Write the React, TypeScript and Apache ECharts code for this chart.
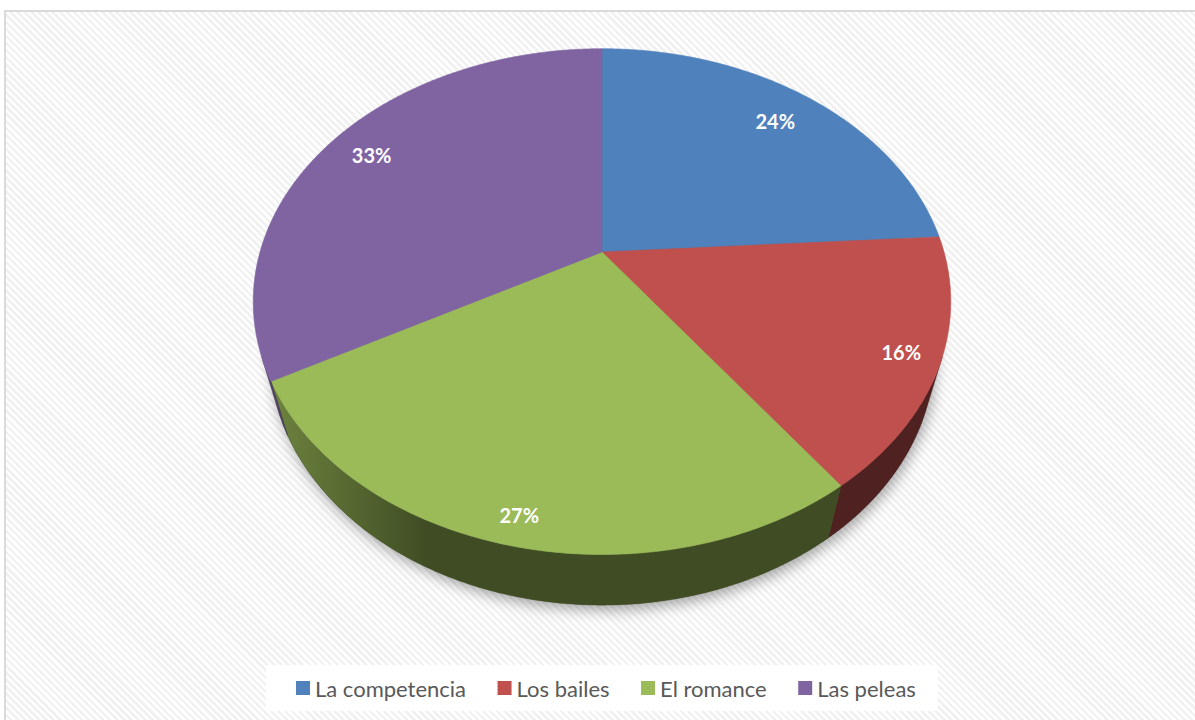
import React, { useEffect, useRef } from "react";
import * as echarts from "echarts";

const categories = ["La competencia", "Los bailes", "El romance", "Las peleas"];
const values = [24, 16, 27, 33];
const colors = ["#4F81BD", "#C0504D", "#9BBB59", "#8064A2"];

// projection parameters (3D tilted pie with perspective)
const CX = 602;
const CY = 252;
const F = 1225.7;
const DIST = 3.584;
const SA = 0.711;
const CA = 0.703;
const THICK = 0.239;
const DEG = Math.PI / 180;

function project(phi: number, h: number, r = 1): [number, number] {
  const X = r * Math.cos(phi);
  const Z = r * Math.sin(phi);
  const yv = Z * SA + h * CA;
  const depth = DIST + Z * CA - h * SA;
  return [CX + (F * X) / depth, CY - (F * yv) / depth];
}

function shade(hex: string, k: number): string {
  const n = parseInt(hex.slice(1), 16);
  const r = Math.round(((n >> 16) & 255) * k);
  const g = Math.round(((n >> 8) & 255) * k);
  const b = Math.round((n & 255) * k);
  return `rgb(${r},${g},${b})`;
}

function arcPoints(a: number, b: number, h: number): [number, number][] {
  const pts: [number, number][] = [];
  const steps = Math.max(2, Math.ceil(Math.abs(b - a) / (0.5 * DEG)));
  for (let i = 0; i <= steps; i++) {
    pts.push(project(a + ((b - a) * i) / steps, h));
  }
  return pts;
}

const total = values.reduce((s, v) => s + v, 0);
const tangent = Math.asin(1 / (DIST * CA));
const visA = -Math.PI + tangent; // left silhouette
const visB = -tangent; // right silhouette

export default function App() {
  const ref = useRef<HTMLDivElement>(null);
  useEffect(() => {
    if (!ref.current) return;
    const chart = echarts.init(ref.current, null, { renderer: "svg" });
    const leftX = project(visA, 0)[0];
    const gradEndX = project(-115 * DEG, 0)[0];

    const sliceSeries = categories.map((name, idx) => {
      const before = values.slice(0, idx).reduce((s, v) => s + v, 0);
      return {
        type: "custom",
        name,
        coordinateSystem: "none",
        itemStyle: { color: colors[idx] },
        data: [[values[idx]]],
        z: 3,
        renderItem: (params: any, api: any) => {
          const v = api.value(0);
          const start = Math.PI / 2 - (2 * Math.PI * before) / total;
          const end = Math.PI / 2 - (2 * Math.PI * (before + v)) / total;
          const children: any[] = [];
          // side wall (visible part only)
          for (const shift of [-2 * Math.PI, 0, 2 * Math.PI]) {
            const hi = Math.min(start, visB + shift);
            const lo = Math.max(end, visA + shift);
            if (hi > lo) {
              const top = arcPoints(hi, lo, 0);
              const bottom = arcPoints(lo, hi, -THICK);
              children.push({
                type: "polygon",
                shape: { points: top.concat(bottom) },
                style: {
                  fill: new echarts.graphic.LinearGradient(
                    leftX, 0, gradEndX, 0,
                    [
                      { offset: 0, color: shade(colors[idx], 0.72) },
                      { offset: 1, color: shade(colors[idx], 0.41) },
                    ],
                    true
                  ),
                  stroke: shade(colors[idx], 0.41),
                  lineWidth: 0.4,
                },
              });
            }
          }
          // top face
          const topPts = [[CX, CY] as [number, number]].concat(arcPoints(start, end, 0));
          children.push({
            type: "polygon",
            shape: { points: topPts },
            style: { fill: colors[idx], stroke: colors[idx], lineWidth: 0.6 },
          });
          // label
          const mid = (start + end) / 2;
          const edge = project(mid, 0);
          const dx = edge[0] - CX;
          const dy = edge[1] - CY;
          const len = Math.sqrt(dx * dx + dy * dy);
          const ux = dx / len;
          const uy = dy / len;
          const inset = 18 + Math.abs(ux) * 21 + Math.abs(uy) * 8;
          children.push({
            type: "text",
            x: edge[0] - ux * inset,
            y: edge[1] - uy * inset,
            style: {
              text: Math.round((v / total) * 100) + "%",
              fill: "#ffffff",
              fontSize: 20,
              fontWeight: "bold",
              fontFamily: "Lato",
              align: "center",
              verticalAlign: "middle",
            },
          });
          return { type: "group", children };
        },
      };
    });

    const shadowSeries = {
      type: "custom",
      name: "shadow",
      coordinateSystem: "none",
      data: [[0]],
      z: 1,
      silent: true,
      renderItem: () => ({
        type: "polygon",
        shape: { points: arcPoints(-Math.PI, Math.PI, -THICK) },
        style: {
          fill: "#777",
          shadowBlur: 14,
          shadowColor: "rgba(0,0,0,0.35)",
          shadowOffsetX: 2,
          shadowOffsetY: 5,
        },
      }),
    };

    chart.setOption({
      animation: false,
      backgroundColor: "transparent",
      legend: {
        data: categories,
        left: 266,
        top: 665,
        backgroundColor: "#ffffff",
        padding: [12, 22, 12, 30],
        itemWidth: 14,
        itemHeight: 14,
        itemGap: 31.5,
        icon: "rect",
        textStyle: { fontFamily: "Lato", fontSize: 22, color: "#595959" },
      },
      series: [shadowSeries, ...sliceSeries],
    });
    return () => chart.dispose();
  }, []);

  return (
    <div
      style={{
        position: "absolute",
        left: 0,
        top: 0,
        width: 1195,
        height: 720,
        overflow: "hidden",
        background: "#ffffff",
      }}
    >
      <div
        style={{
          position: "absolute",
          left: 4,
          top: 10,
          width: 1300,
          height: 800,
          border: "2px solid #dadada",
          background:
            "repeating-linear-gradient(45deg, #ffffff 0px, #ffffff 2.5px, #f1f1f1 2.5px, #f1f1f1 5px)",
        }}
      />
      <div ref={ref} style={{ position: "absolute", left: 0, top: 0, width: 1195, height: 720 }} />
    </div>
  );
}
